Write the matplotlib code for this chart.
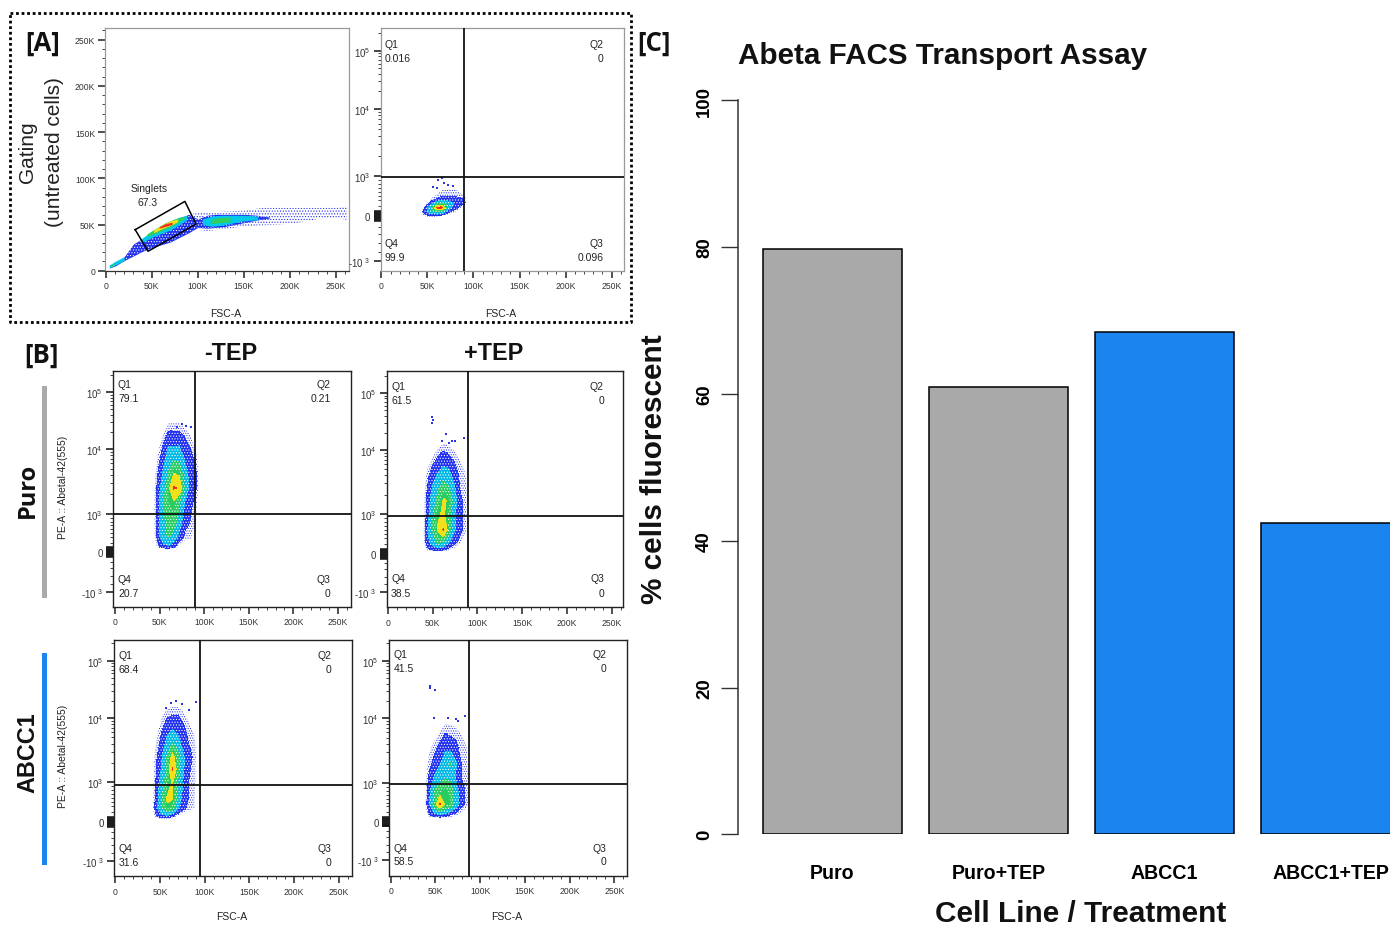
import numpy as np
import matplotlib
matplotlib.use("Agg")
import matplotlib.pyplot as plt
from matplotlib.lines import Line2D
from matplotlib.patches import Rectangle

W, H = 1390, 928
plt.rcParams['font.family'] = ['Liberation Sans', 'DejaVu Sans']
plt.rcParams['mathtext.fontset'] = 'custom'
plt.rcParams['mathtext.rm'] = 'Liberation Sans'
plt.rcParams['mathtext.default'] = 'regular'
plt.rcParams['hatch.linewidth'] = 0.5

# ---------- Panel C data ----------
bar_labels = ['Puro', 'Puro+TEP', 'ABCC1', 'ABCC1+TEP']
bar_values = [79.7, 61.0, 68.4, 42.4]
bar_colors = ['#a9a9a9', '#a9a9a9', '#1c84ee', '#1c84ee']
bar_ticks = [0, 20, 40, 60, 80, 100]

# ---------- Panel A scatter: singlets plot bands (x in K, y in K) ----------
a_blue_x = [4, 10, 20, 30, 40, 50, 60, 70, 80, 90, 100, 110, 120, 130, 140, 150, 165, 178]
a_blue_lo = [3, 5, 11, 16, 21, 25, 28, 31, 36, 41, 47, 46, 47, 48, 50, 52, 55, 57]
a_blue_hi = [6, 9, 15, 29, 35, 41, 47, 52, 57, 61, 56, 60, 61, 61, 61, 61, 60, 58]
a_sparse_x = [95, 110, 130, 150, 170, 190, 210, 230, 250, 262]
a_sparse_lo = [45, 43, 45, 48, 49, 50, 52, 56, 57, 55]
a_sparse_hi = [62, 63, 64, 65, 68, 68, 68, 68, 68, 70]
a_bands = [
    ('#00c8e8', [4, 10, 20], [3, 6, 11], [6, 10, 15]),
    ('#00c8e8', [38, 50, 60, 70, 80, 88], [30, 36, 40, 44, 50, 55], [34, 43, 49, 54, 58, 60]),
    ('#00c8e8', [105, 115, 125, 135, 150, 165], [50, 48, 49, 51, 54, 55], [56, 59, 60, 60, 60, 59]),
    ('#30d060', [5, 9], [4, 6], [5.5, 8]),
    ('#30d060', [45, 55, 65, 75, 85], [37, 41, 45, 50, 56], [40, 46, 52, 56, 59]),
    ('#30d060', [115, 125, 135], [51, 52, 53], [56, 57.5, 58]),
    ('#f5e020', [52, 60, 70, 78], [41, 45, 49, 53], [44, 49, 54, 56]),
    ('#f03020', [58, 65, 72], [46, 48, 50], [47.5, 51, 52.5]),
]
gate_x = [32, 86, 98, 46, 32]
gate_y = [44.4, 75, 50.5, 21, 44.4]

# ---------- Density grids (x in K, y in fluorescence units) ----------
a2_x = [40, 45, 50, 55, 60, 65, 70, 75, 80, 85, 90, 95]
a2_y = [-50, 0, 100, 200, 300, 400, 500, 650, 800]
a2_z = [[0]*12,
        [0, .4, .7, .8, .7, .5, .2, 0, 0, 0, 0, 0],
        [0, .8, 1.6, 2.4, 2.6, 2.4, 1.4, .8, .5, 0, 0, 0],
        [0, .4, 1.4, 2.6, 4.6, 5, 3, 1.6, 1.0, .7, 0, 0],
        [0, 0, .6, 1.4, 2.4, 2.8, 2.4, 1.8, 1.4, 1, .7, 0],
        [0, 0, 0, .6, .9, 1.2, 1.3, 1.2, 1.1, 1, .8, 0],
        [0, 0, 0, .3, .5, .7, .7, .7, .7, .6, .5, 0],
        [0, 0, 0, 0, .2, .4, .5, .5, .5, .3, .2, 0],
        [0]*12]
b1_x = [42, 48, 54, 60, 66, 72, 78, 84, 90, 96]
b1_y = [30, 150, 400, 800, 1500, 2500, 4000, 7000, 12000, 22000, 40000]
b1_z = [[0]*10,
        [0, .6, 1.2, 1.4, 1, .3, 0, 0, 0, 0],
        [0, 1, 2.2, 2.6, 2, 1.2, .7, .6, 0, 0],
        [0, 1.2, 2.2, 3, 3, 2, 1, .8, .5, 0],
        [0, 1.2, 2.4, 3.2, 3.4, 2.6, 1.5, 1, .6, 0],
        [0, 1, 2, 3.2, 4.6, 4.4, 2.4, 1.2, 1, 0],
        [0, .8, 1.6, 2.6, 3.6, 3.4, 2, 1.2, 1, 0],
        [0, .5, 1.2, 2, 2.4, 2.2, 1.4, 1, .7, 0],
        [0, .2, .8, 1.4, 1.2, 1.4, 1, .7, .3, 0],
        [0, 0, .2, .7, .7, .7, .5, .3, .1, 0],
        [0]*10]
b2_x = [38, 44, 50, 56, 62, 68, 74, 80, 86, 92]
b2_y = [30, 120, 300, 600, 1000, 1600, 2500, 4000, 6500, 11000, 18000]
b2_z = [[0]*10,
        [0, .6, 1, 1.2, 1, .6, .3, 0, 0, 0],
        [0, 1.2, 2, 2.8, 2.6, 1.6, 1, .6, 0, 0],
        [0, 1.4, 2.6, 3.6, 4.6, 3, 1.6, 1, .6, 0],
        [0, 1, 2.4, 3.4, 3.6, 3, 1.6, 1, .6, 0],
        [0, 1, 2, 2.8, 3.6, 3.4, 2, 1, .6, 0],
        [0, .8, 1.6, 2.4, 3, 2.6, 1.6, .8, .6, 0],
        [0, .6, 1.2, 1.6, 2, 1.8, 1.2, .7, .5, 0],
        [0, .2, .6, 1, 1.2, 1.0, .8, .5, .2, 0],
        [0, 0, 0, .4, .6, .5, .3, 0, 0, 0],
        [0]*10]
b3_x = [40, 46, 52, 58, 64, 70, 76, 82, 88, 94]
b3_y = [30, 130, 350, 600, 1000, 1600, 2500, 4000, 7000, 12000, 22000]
b3_z = [[0]*10,
        [0, .7, 1.2, 1.2, .8, .3, 0, 0, 0, 0],
        [0, 1.2, 2.4, 3.4, 3, 1.6, 1, .6, .5, 0],
        [0, 1, 2.4, 3.6, 3.6, 2.2, 1.2, .8, .5, 0],
        [0, .9, 2, 3, 3.6, 2.4, 1.4, .8, .6, 0],
        [0, .8, 1.6, 2.8, 4.6, 3, 1.6, .9, .6, 0],
        [0, .7, 1.4, 2.6, 3.8, 2.8, 1.6, 1, .7, 0],
        [0, .5, 1, 1.8, 2.6, 1.8, 1.2, .8, .6, 0],
        [0, .2, .7, 1.1, 1.3, 1.2, .9, .6, .3, 0],
        [0, 0, .3, .6, .7, .7, .5, .2, 0, 0],
        [0]*10]
b4_x = [37, 43, 49, 55, 61, 67, 73, 79, 85, 91]
b4_y = [50, 180, 450, 800, 1200, 2000, 3200, 5200, 9000, 14000]
b4_z = [[0]*10,
        [0, .7, 1.2, 1.5, 1.2, .8, .5, .3, 0, 0],
        [0, 1.4, 3, 4.6, 3.4, 3.2, 2, 1, .6, 0],
        [0, 1.2, 2.6, 3, 3.4, 3, 1.8, 1, .7, 0],
        [0, .9, 1.6, 2, 2.4, 2.2, 1.4, .8, .6, 0],
        [0, .6, 1, 1.4, 2.2, 2.6, 1.6, .8, .5, 0],
        [0, .4, .7, 1, 1.4, 1.4, 1, .6, .5, 0],
        [0, 0, .3, .6, .9, .8, .7, .5, .2, 0],
        [0, 0, 0, 0, .3, .3, .2, 0, 0, 0],
        [0]*10]
a2_out_x = [62, 66, 68, 72, 60, 78, 56]
a2_out_y = [900, 950, 820, 780, 700, 750, 720]
b1_out_x = [75, 80, 85, 63, 70]
b1_out_y = [28000, 25000, 24000, 21000, 24000]
b2_out_x = [49, 50, 49, 65, 60, 72, 75, 85, 68]
b2_out_y = [38000, 33000, 29000, 19000, 14500, 14000, 14000, 16000, 13000]
b3_out_x = [68, 62, 75, 90, 57, 82]
b3_out_y = [20000, 18000, 17500, 19000, 15000, 14000]
b4_out_x = [44, 44, 50, 64, 48, 73, 75, 83]
b4_out_y = [36000, 33000, 31000, 10000, 10000, 9500, 9000, 11000]

# ---------- Q labels ----------
a2_q = ['0.016', '0', '99.9', '0.096']
b1_q = ['79.1', '0.21', '20.7', '0']
b2_q = ['61.5', '0', '38.5', '0']
b3_q = ['68.4', '0', '31.6', '0']
b4_q = ['41.5', '0', '58.5', '0']

x_major = [0, 50, 100, 150, 200, 250]
x_major_labels = ['0', '50K', '100K', '150K', '200K', '250K']
x_minor = [v for v in range(10, 261, 10) if v % 50]
y_major = [-1000, 0, 1000, 10000, 100000]
y_major_labels = ['-$10^{\\ 3}$', '0', '$10^{3}$', '$10^{4}$', '$10^{5}$']
y_clump = [-125, -100, -75, -50, -25, 25, 50, 75, 100, 125]
y_minor = [-800, -600, -400, -250, 250, 400, 500, 600, 700, 800, 900,
           2000, 3000, 4000, 5000, 6000, 7000, 8000, 9000,
           20000, 30000, 40000, 50000, 60000, 70000, 80000, 90000, 200000]

level_edges = [0.8, 1.5, 2.5, 3.5, 4.5, 9]
level_colors = ['#2030f0', '#00b8e6', '#28cc60', '#f2e01c', '#f0301c']
TICK = '#333333'

fig = plt.figure(figsize=(W / 100, H / 100), dpi=100, facecolor='white')


def px_axes(l, t, r, b):
    return fig.add_axes([l / W, 1 - b / H, (r - l) / W, (b - t) / H])


def ftext(x, y, s, **kw):
    kw.setdefault('ha', 'center')
    kw.setdefault('va', 'center')
    return fig.text(x / W, 1 - y / H, s, **kw)


def biex_scale(tick_px):
    anchors = np.array(tick_px, float)  # px of -1e3, 0, 1e3, 1e4, 1e5
    u = -anchors
    ku = [-3, -1, 0, 1, 2, 3, 6]
    uu = [u[0] - 2 * (u[1] - u[0]), *u, u[4] + 3 * (u[4] - u[3])]

    def fwd(v):
        v = np.asarray(v, float)
        k = np.where(v > 1000, np.log10(np.maximum(v, 1000)) - 2, v / 1000)
        return np.interp(k, ku, uu)

    def inv(p):
        k = np.interp(np.asarray(p, float), uu, ku)
        return np.where(k > 1, 10 ** (k + 2), k * 1000)
    return fwd, inv


def style_common(ax, x0, x250, l, r, frame, lw):
    k = (x250 - x0) / 250
    ax.set_xlim((l - x0) / k, (r - x0) / k)
    ax.set_xticks(x_major)
    ax.set_xticklabels(x_major_labels)
    ax.set_xticks(x_minor, minor=True)
    ax.tick_params(axis='x', which='major', length=5, width=1.1, color='#222222', labelsize=6.2,
                   labelcolor=TICK, pad=2.5)
    ax.tick_params(axis='x', which='minor', length=2.5, width=0.7, color='#444444')
    for s in ax.spines.values():
        s.set_color(frame)
        s.set_linewidth(lw)


def draw_cloud(ax, x, y, z, ox, oy):
    # sparse fringe: blue specks on white
    fringe = ax.contourf(x, y, z, levels=[0.45, 0.8], colors='none', hatches=['.......'], zorder=2)
    fringe.set_edgecolor('#2030f0')
    fringe.set_linewidth(0)
    ax.contourf(x, y, z, levels=level_edges, colors=level_colors, zorder=2)
    cs = ax.contourf(x, y, z, levels=[0.8, 3.2], colors='none', hatches=['......'], zorder=3)
    cs.set_edgecolor('#ffffff')
    cs.set_linewidth(0)
    ax.scatter(ox, oy, s=1.2, c='#2a35e0', marker='s', linewidths=0, zorder=3)


def quadrant_panel(box, x0, x250, ytick_px, gate_px, q_vals, q_pos, cloud, frame='#222222', lw=1.0):
    l, t, r, b = box
    ax = px_axes(l, t, r, b)
    fwd, inv = biex_scale(ytick_px)
    ax.set_yscale('function', functions=(fwd, inv))
    ax.set_ylim(float(inv(-b)), float(inv(-t)))
    style_common(ax, x0, x250, l, r, frame, lw)
    ax.set_yticks(y_major + y_clump)
    ax.set_yticklabels(y_major_labels + [''] * len(y_clump))
    ax.set_yticks(y_minor, minor=True)
    ax.tick_params(axis='y', which='major', length=5, width=1.1, color='#111111', labelsize=7,
                   labelcolor=TICK, pad=2.5)
    ax.tick_params(axis='y', which='minor', length=2.5, width=0.7, color='#444444')
    draw_cloud(ax, *cloud)
    k = (x250 - x0) / 250
    ax.axvline((gate_px[0] - x0) / k, color='#111111', lw=1.3, zorder=4)
    ax.axhline(float(inv(-gate_px[1])), color='#111111', lw=1.3, zorder=4)
    xl, xr, y1, y2, y3, y4 = q_pos
    kw = dict(fontsize=7.5, color='#222222')
    ftext(xl, y1, 'Q1', ha='left', **kw)
    ftext(xl, y2, q_vals[0], ha='left', **kw)
    ftext(xr, y1, 'Q2', ha='right', **kw)
    ftext(xr, y2, q_vals[1], ha='right', **kw)
    ftext(xl, y3, 'Q4', ha='left', **kw)
    ftext(xl, y4, q_vals[2], ha='left', **kw)
    ftext(xr, y3, 'Q3', ha='right', **kw)
    ftext(xr, y4, q_vals[3], ha='right', **kw)
    return ax


# ---------- Panel A left ----------
ax = px_axes(105, 29, 349, 272)
style_common(ax, 105.7, 336, 105, 349, '#999999', 0.9)
ax.spines['bottom'].set_color('#333333')
ax.set_ylim((272 - 271.7) / -0.924, (271.7 - 29) / 0.924)
ax.set_yticks(x_major)
ax.set_yticklabels(x_major_labels)
ax.set_yticks(x_minor, minor=True)
ax.tick_params(axis='y', which='major', length=5, width=1.1, color='#222222', labelsize=6.2, labelcolor=TICK, pad=2)
ax.tick_params(axis='y', which='minor', length=2.5, width=0.7, color='#444444')
ax.fill_between(a_sparse_x, a_sparse_lo, a_sparse_hi, facecolor='none', edgecolor='#2030f0',
                hatch='......', lw=0, zorder=2)
ax.fill_between(a_blue_x, a_blue_lo, a_blue_hi, color='#2030f0', lw=0, zorder=2)
ax.fill_between(a_blue_x, a_blue_lo, a_blue_hi, facecolor='none', edgecolor='white',
                hatch='......', lw=0, zorder=3)
for col, x, lo, hi in a_bands:
    ax.fill_between(x, lo, hi, color=col, lw=0, zorder=4)
ax.plot(gate_x, gate_y, color='black', lw=1.1, zorder=5)
ftext(149, 188.5, 'Singlets', fontsize=7.5, color='#222222')
ftext(148, 202.5, '67.3', fontsize=7.5, color='#222222')

# ---------- Panel A right and Panel B ----------
quadrant_panel((380.7, 29, 624, 272), 381.3, 611.7, [261.7, 216.7, 176.7, 110, 51.7], (464, 177.7),
               a2_q, (384.7, 603.7, 44.5, 58.5, 243.8, 257.8), (a2_x, a2_y, a2_z, a2_out_x, a2_out_y),
               frame='#999999', lw=0.9)
quadrant_panel((113.3, 371.7, 350.7, 607.7), 115, 338, [593, 553, 515, 450, 393.3], (195, 515.3),
               b1_q, (118, 330.7, 385.5, 399.5, 580, 594), (b1_x, b1_y, b1_z, b1_out_x, b1_out_y))
quadrant_panel((386.7, 372, 623.3, 608.3), 388, 611.7, [592.7, 555, 515, 450.7, 394], (468, 517),
               b2_q, (391, 604, 387, 401, 579.5, 593.8), (b2_x, b2_y, b2_z, b2_out_x, b2_out_y))
quadrant_panel((114.3, 640.7, 351.7, 877.3), 115.3, 338.7, [862.3, 822.7, 783.3, 719, 661.7], (200.3, 786.3),
               b3_q, (118.7, 331, 656, 670, 848.8, 862.8), (b3_x, b3_y, b3_z, b3_out_x, b3_out_y))
quadrant_panel((389.3, 640.7, 626.7, 876.7), 390.7, 614.3, [861, 822.7, 784.3, 719, 661.7], (469, 785.3),
               b4_q, (393.7, 606.7, 655, 669, 848.8, 862), (b4_x, b4_y, b4_z, b4_out_x, b4_out_y))

for xc, yc in [(225.7, 314), (501, 314), (231.7, 916.7), (507, 916.7)]:
    ftext(xc, yc, 'FSC-A', fontsize=7.5, color='#222222')
for xc, yc in [(62.7, 487.7), (63.3, 756.7)]:
    ftext(xc, yc, 'PE-A :: Abetal-42(555)', fontsize=7.5, color='#222222', rotation=90)

# ---------- Annotations ----------
bx = [10, 631, 631, 10, 10]
by = [14, 14, 323, 323, 14]
fig.add_artist(Line2D([v / W for v in bx], [1 - v / H for v in by], color='black', lw=2,
                      ls=(0, (1, 1)), transform=fig.transFigure))
for s, x, y in [('[A]', 42.5, 43), ('[B]', 41, 355), ('[C]', 653.5, 43)]:
    ftext(x, y, s, fontsize=18.5, fontweight='bold', family=['Open Sans', 'DejaVu Sans'], color='#111111')
ftext(28, 152, 'Gating', fontsize=15, rotation=90, color='#222222')
ftext(55, 152, '(untreated cells)', fontsize=15, rotation=90, color='#222222')
ftext(231, 354, '-TEP', fontsize=16.8, fontweight='bold', color='#111111')
ftext(494, 354, '+TEP', fontsize=16.8, fontweight='bold', color='#111111')
ftext(28, 490, 'Puro', fontsize=17, fontweight='bold', rotation=90, family=['Open Sans', 'DejaVu Sans'], color='#111111')
ftext(28, 753, 'ABCC1', fontsize=16.8, fontweight='bold', rotation=90, color='#111111')
fig.add_artist(Rectangle((41.7 / W, 1 - 599 / H), 5.3 / W, 212.3 / H, color='#aaaaaa', lw=0, transform=fig.transFigure))
fig.add_artist(Rectangle((41.7 / W, 1 - 866 / H), 5.3 / W, 212 / H, color='#1c84ee', lw=0, transform=fig.transFigure))

# ---------- Panel C ----------
axc = px_axes(738, 101.3, 1390, 835.3)
axc.patch.set_alpha(0)
axc.bar(range(4), bar_values, width=138.3 / 166, color=bar_colors, edgecolor='black', linewidth=1.1)
axc.set_xlim((738 - 832.5) / 166, (1390 - 832.5) / 166)
axc.set_ylim(0, 100)
for s in ['top', 'right', 'bottom']:
    axc.spines[s].set_visible(False)
axc.spines['left'].set_color('#333333')
axc.spines['left'].set_linewidth(1.1)
axc.set_yticks(bar_ticks)
axc.tick_params(axis='y', length=12, width=1.0, color='#333333', labelsize=13.4, pad=6)
for t in axc.get_yticklabels():
    t.set_rotation(90)
    t.set_va('center')
    t.set_fontweight('bold')
axc.set_xticks(range(4))
axc.set_xticklabels(bar_labels, fontweight='bold', fontsize=14.1)
axc.tick_params(axis='x', length=0, pad=20.5)
ftext(738, 64, 'Abeta FACS Transport Assay', fontsize=21.3, fontweight='bold', ha='left', va='baseline', color='#111111')
ftext(654, 469, '% cells fluorescent', fontsize=21.4, fontweight='bold', rotation=90, color='#111111')
ftext(1081, 922, 'Cell Line / Treatment', fontsize=21.4, fontweight='bold', va='baseline', color='#111111')

fig.savefig('out.png', dpi=100)
